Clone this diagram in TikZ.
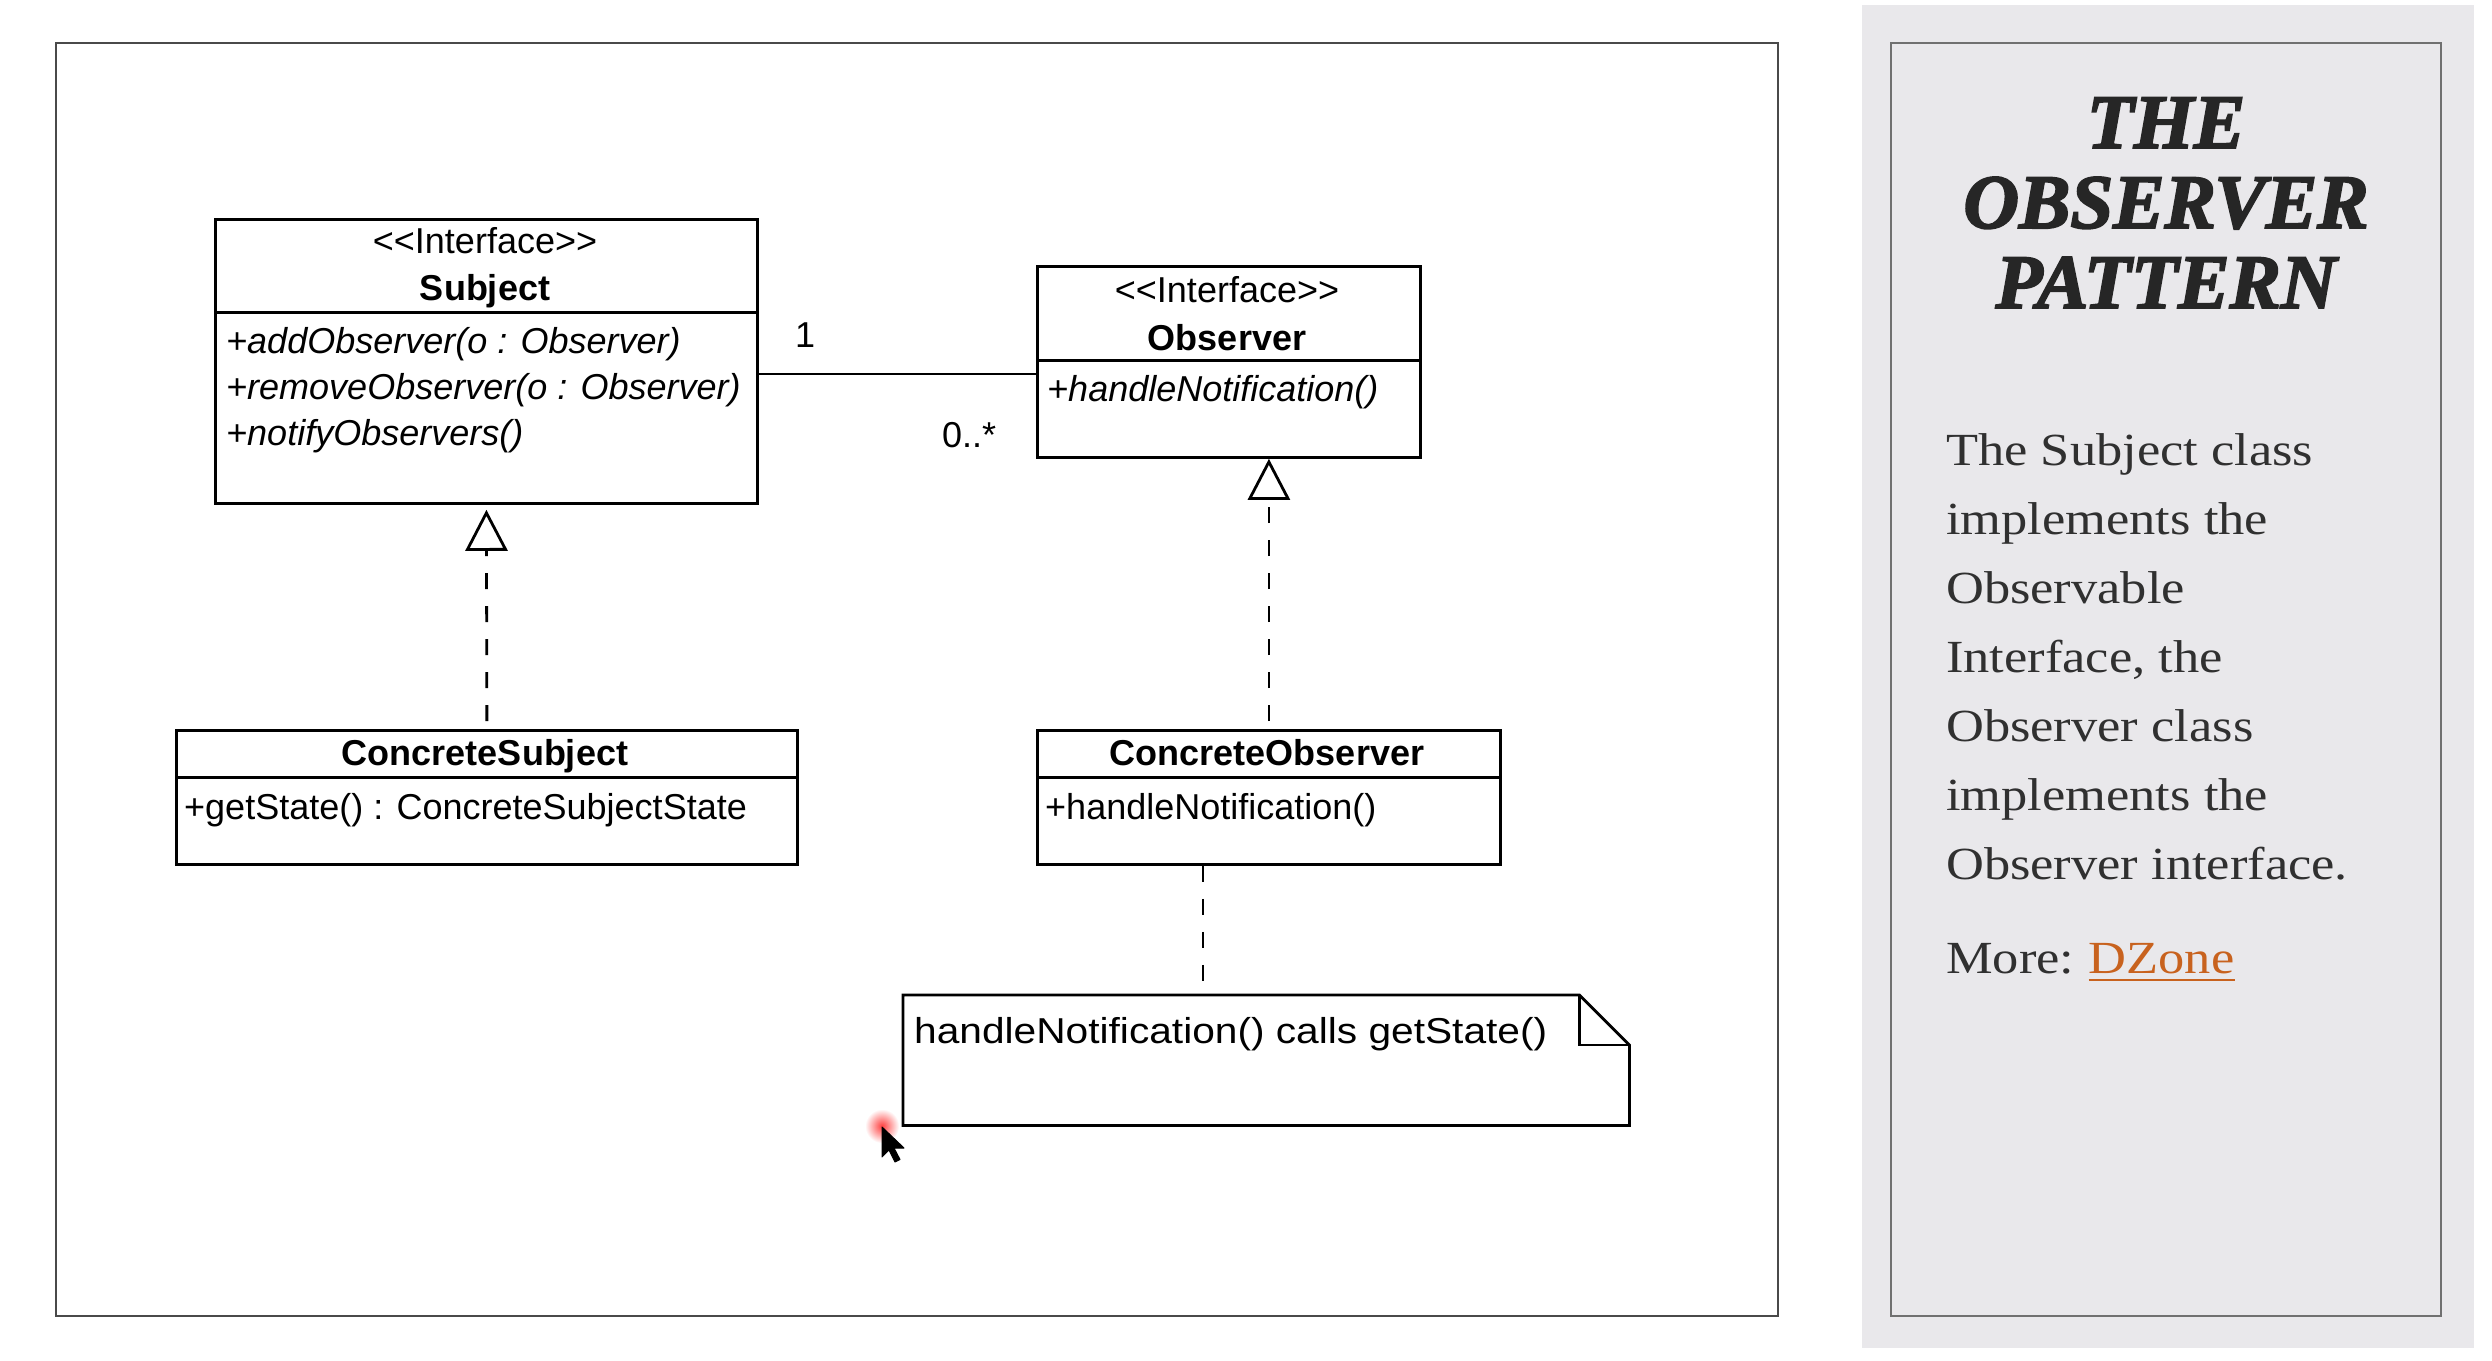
\documentclass[tikz,border=0pt]{standalone}
\usepackage{fontspec}
\setmainfont{Liberation Serif}
\newfontfamily\umlfont{Liberation Sans}
\newfontfamily\notefont[FakeStretch=1.13]{Liberation Sans}
\newfontfamily\panelfont[FakeStretch=1.14]{Liberation Serif}
\newfontfamily\titlefont[FakeBold=2.5]{Liberation Serif}
\usetikzlibrary{arrows.meta}
\definecolor{panelbg}{HTML}{E9E8EB}
\definecolor{panelline}{HTML}{707070}
\definecolor{framecol}{HTML}{4A4A4A}
\definecolor{titlecol}{HTML}{262626}
\definecolor{bodycol}{HTML}{303030}
\definecolor{dzcol}{HTML}{C8621E}
\begin{document}
\begin{tikzpicture}[x=1pt,y=-1pt,
  umlbox/.style={draw=black, line width=2.8pt, inner sep=0pt, anchor=north west},
  utext/.style={font=\umlfont\fontsize{36}{43}\selectfont, inner sep=0pt, text=black},
  ntext/.style={font=\notefont\fontsize{36}{43}\selectfont, inner sep=0pt, text=black},
  ptext/.style={font=\panelfont\fontsize{46}{69}\selectfont, inner sep=0pt, text=bodycol, anchor=base west},
  ttext/.style={font=\titlefont\bfseries\itshape\fontsize{77}{80}\selectfont, inner sep=0pt, text=titlecol, anchor=base},
  dashline/.style={line width=2.8pt, dash pattern=on 16pt off 17pt, dash phase=25pt},
  realize/.style={dashline, -{Triangle[open, length=41pt, width=42pt, line width=2.8pt]}},
  assoc/.style={line width=2.8pt}
]
\useasboundingbox (0,0) rectangle (2492,1360);
\fill[white] (0,0) rectangle (2492,1360);

% frames
\draw[framecol, line width=2pt] (56,43) rectangle (1778,1316);
\fill[panelbg] (1862,5) rectangle (2474,1348);
\draw[panelline, line width=1.5pt] (1891,43) rectangle (2441,1316);

% Subject
\node[umlbox, minimum width=542pt, minimum height=93pt] (subjHead) at (214,218) {};
\node[umlbox, minimum width=542pt, minimum height=191pt] (subjBody) at (214,311) {};
\node[utext, anchor=base] (subjSt) at (485,253) {<\kern0pt<Interface>\kern0pt>};
\node[utext, anchor=base] (subjName) at (485,300) {\bfseries Subject};
\node[utext, anchor=base west] (subjM1) at (226,353) {\itshape +addObserver(o : Observer)};
\node[utext, anchor=base west] (subjM2) at (226,399) {\itshape +removeObserver(o : Observer)};
\node[utext, anchor=base west] (subjM3) at (226,445) {\itshape +notifyObservers()};

% Observer
\node[umlbox, minimum width=383pt, minimum height=94pt] (obsHead) at (1036,265) {};
\node[umlbox, minimum width=383pt, minimum height=97pt] (obsBody) at (1036,359) {};
\node[utext, anchor=base] (obsSt) at (1227,302) {<\kern0pt<Interface>\kern0pt>};
\node[utext, anchor=base] (obsName) at (1227,350) {\bfseries Observer};
\node[utext, anchor=base west] (obsM1) at (1047,401) {\itshape +handleNotification()};

% ConcreteSubject
\node[umlbox, minimum width=621pt, minimum height=47pt] (csHead) at (175,729) {};
\node[umlbox, minimum width=621pt, minimum height=87pt] (csBody) at (175,776) {};
\node[utext, anchor=base] (csName) at (485,765) {\bfseries ConcreteSubject};
\node[utext, anchor=base west] (csM1) at (184,819) {+getState() : ConcreteSubjectState};

% ConcreteObserver
\node[umlbox, minimum width=463pt, minimum height=47pt] (coHead) at (1036,729) {};
\node[umlbox, minimum width=463pt, minimum height=87pt] (coBody) at (1036,776) {};
\node[utext, anchor=base] (coName) at (1267,765) {\bfseries ConcreteObserver};
\node[utext, anchor=base west] (coM1) at (1045,819) {+handleNotification()};

% Note
\node[inner sep=0pt, minimum width=726pt, minimum height=130pt, anchor=north west] (note) at (903,995) {};
\draw[line width=2.8pt, line join=miter] (note.north west) -- ([xshift=-50pt]note.north east) -- ([yshift=-50pt]note.north east) -- (note.south east) -- (note.south west) -- cycle;
\draw[line width=2.8pt] ([xshift=-50pt]note.north east) -- ([xshift=-50pt,yshift=-50pt]note.north east) -- ([yshift=-50pt]note.north east);
\node[ntext, anchor=base west] (noteText) at (914,1043) {handleNotification() calls getState()};

% connectors
\coordinate (asy) at (0,374);
\draw[assoc] (asy -| subjBody.east) -- (asy -| obsBody.west);
\node[utext, anchor=base west] (mult1) at (795,347) {1};
\node[utext, anchor=base west] (multN) at (942,447) {0..*};

\draw[realize, shorten >=5pt] (csHead.north) -- (subjBody.south);
\draw[realize] (coHead.north) -- (coHead.north |- obsBody.south);
\coordinate (ncx) at (1203,995);
\draw[dashline, dash phase=0pt] (ncx |- coBody.south) -- (ncx);

% right panel text
\node[ttext] (t1) at (2166,148) {THE};
\node[ttext] (t2) at (2166,228) {OBSERVER};
\node[ttext] (t3) at (2166,308) {PATTERN};
\node[ptext] (p1) at (1946,465) {The Subject class};
\node[ptext] (p2) at (1946,534) {implements the};
\node[ptext] (p3) at (1946,603) {Observable};
\node[ptext] (p4) at (1946,672) {Interface, the};
\node[ptext] (p5) at (1946,741) {Observer class};
\node[ptext] (p6) at (1946,810) {implements the};
\node[ptext] (p7) at (1946,879) {Observer interface.};
\node[ptext] (more) at (1946,973) {More:};
\node[ptext, text=dzcol, anchor=base west] (dz) at ([xshift=14pt]more.base east) {DZone};
\draw[dzcol, line width=2.5pt] ([yshift=-7pt]dz.base west) -- ([yshift=-7pt]dz.base east);

% cursor
\shade[inner color=red!75, outer color=white] (882,1126) circle (17);
\draw[black, fill=black, line join=round, line width=1pt] (882,1127) -- ++(0,30) -- ++(7,-7) -- ++(6,12) -- ++(5,-2.5) -- ++(-6,-11.5) -- ++(10,0) -- cycle;
\end{tikzpicture}
\end{document}
